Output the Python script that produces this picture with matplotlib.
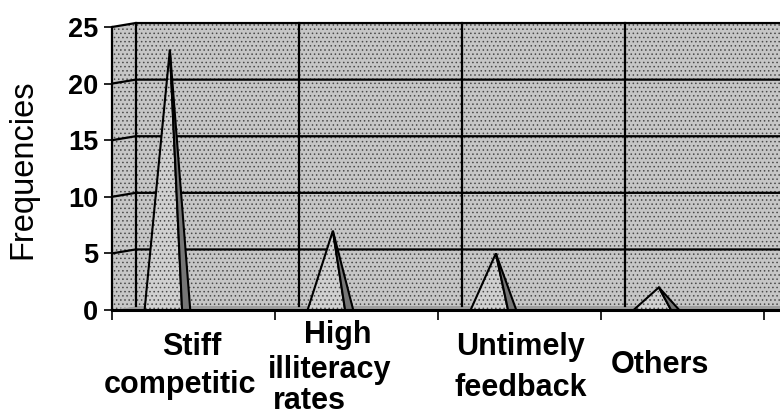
import matplotlib.pyplot as plt
from matplotlib.patches import Polygon

# data
categories = [["Stiff", "competitic"],
              ["High", "illiteracy", "rates"],
              ["Untimely", "feedback"],
              ["Others"]]
frequencies = [23, 7, 5, 2]
yticks = [0, 5, 10, 15, 20, 25]

# label line placement in pixels: (x, baseline, ha)
label_layout = [[(192, 355, 'center'), (180, 393, 'center')],
                [(338, 343, 'center'), (330, 378, 'center'), (273, 409, 'left')],
                [(520, 355, 'center'), (521, 396, 'center')],
                [(660, 373, 'center')]]

W, H = 780, 416
DX, DY = 0.145, 0.35   # depth offset of the back wall
XMAX = (780 - 112) / 163

plt.rcParams['font.family'] = ['Liberation Sans', 'DejaVu Sans']
plt.rcParams['hatch.linewidth'] = 0.6

fig = plt.figure(figsize=(7.8, 4.16), dpi=100)
top_px = 310 - 25.5 * 11.32
bot_px = 310 + 0.5 * 11.32
ax = fig.add_axes([112 / W, 1 - bot_px / H, (W - 112) / W, (bot_px - top_px) / H])
ax.set_xlim(0, XMAX)
ax.set_ylim(-0.5, 25.5)
ax.patch.set_visible(False)

wall_col = '#c6c6c6'
dot_col = '#4a4a4a'


def textured(pts, face, z):
    ax.add_patch(Polygon(pts, closed=True, facecolor=face, edgecolor='none', zorder=z))
    ax.add_patch(Polygon(pts, closed=True, fill=False, edgecolor=dot_col, lw=0,
                         hatch='....', zorder=z))


# back wall, side wall, floor
textured([(DX, DY), (XMAX + 1, DY), (XMAX + 1, 25 + DY), (DX, 25 + DY)], wall_col, 0)
textured([(0, 0), (DX, DY), (DX, 25 + DY), (0, 25)], wall_col, 0)
ax.add_patch(Polygon([(0, 0), (XMAX + 1, 0), (XMAX + 1, DY), (DX, DY)],
                     closed=True, facecolor='#9e9e9e', edgecolor='none', zorder=1))

# gridlines on the walls
for v in yticks[1:]:
    ax.plot([0, DX, XMAX + 1], [v, v + DY, v + DY], color='black', lw=1.6, zorder=2)
for i in range(len(frequencies) + 1):
    ax.plot([i + DX, i + DX], [DY, 25 + DY], color='black', lw=1.6, zorder=2)

# pyramids
for i, v in enumerate(frequencies):
    front = [(i + 0.2, 0), (i + 0.355, v), (i + 0.43, 0)]
    side = [(i + 0.43, 0), (i + 0.355, v), (i + 0.48, 0)]
    textured(front, '#d0d0d0', 3)
    ax.add_patch(Polygon(front, closed=True, fill=False, edgecolor='black', lw=1.5, zorder=4))
    ax.add_patch(Polygon(side, closed=True, facecolor='#767676', edgecolor='black',
                         lw=1.5, zorder=4))

# axes
for s in ['top', 'right']:
    ax.spines[s].set_visible(False)
ax.spines['left'].set_bounds(0, 25)
ax.spines['left'].set_linewidth(1.6)
ax.spines['bottom'].set_position(('data', 0))
ax.spines['bottom'].set_linewidth(2.2)
ax.spines['bottom'].set_zorder(5)
ax.set_yticks(yticks)
ax.set_xticks(range(len(frequencies) + 1))
ax.set_xticklabels([])
ax.tick_params(axis='y', length=6, width=1.2, labelsize=19.5, pad=4)
ax.tick_params(axis='x', length=7, width=1.2)
for lbl in ax.get_yticklabels():
    lbl.set_fontweight('bold')

fig.text(23 / W, 1 - 169 / H, 'Frequencies', rotation=90, ha='center', va='center',
         fontsize=23.5)

for lines, layout in zip(categories, label_layout):
    for txt, (x, base, ha) in zip(lines, layout):
        fig.text(x / W, 1 - base / H, txt, ha=ha, va='baseline', fontsize=22,
                 fontweight='bold')

fig.savefig('out.png', dpi=100)
